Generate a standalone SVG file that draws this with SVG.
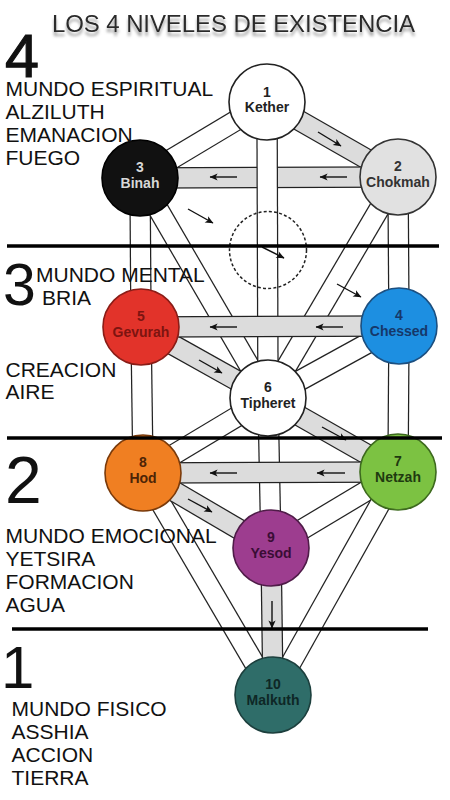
<svg xmlns="http://www.w3.org/2000/svg" width="450" height="800" viewBox="0 0 450 800">
<defs>
<filter id="sh" x="-5%" y="-60%" width="110%" height="240%">
<feGaussianBlur in="SourceAlpha" stdDeviation="1.7" result="b"/>
<feOffset in="b" dx="0" dy="4" result="o"/>
<feColorMatrix in="o" type="matrix" values="0 0 0 0 0.3  0 0 0 0 0.3  0 0 0 0 0.3  0 0 0 0.9 0" result="c"/>
<feMerge><feMergeNode in="c"/><feMergeNode in="SourceGraphic"/></feMerge>
</filter>
<marker id="ah" viewBox="0 0 10 10" refX="9.5" refY="5" markerWidth="9" markerHeight="8" markerUnits="userSpaceOnUse" orient="auto"><path d="M0,0.5 L10,5 L0,9.5 L2.5,5 z" fill="#111"/></marker>
</defs>
<style>
.lbl{font-family:"Liberation Sans",Arial,sans-serif;font-size:21px;fill:#111}
.big{font-family:"Liberation Sans",Arial,sans-serif;fill:#111}
.bo{stroke:#222;stroke-width:21.5}
.bw{stroke:#fff;stroke-width:19}
.bg{stroke:#dcdcdc;stroke-width:19}
.nt{font-family:"Liberation Sans",Arial,sans-serif;font-weight:bold;font-size:14px;text-anchor:middle}
.arr{stroke:#111;stroke-width:1.4;fill:none;marker-end:url(#ah)}
.lvl{stroke:#000;stroke-width:3.5}
</style>
<rect width="450" height="800" fill="#fff"/>

<g id="title">
<text x="52" y="32" font-family="Liberation Sans, Arial, sans-serif" font-size="24" textLength="363" fill="#2a2a2a" filter="url(#sh)">LOS 4 NIVELES DE EXISTENCIA</text>
</g>

<g id="connectors">
<line class="bo" x1="267" y1="102" x2="140" y2="178"/><line class="bw" x1="267" y1="102" x2="140" y2="178"/>
<line class="bo" x1="267" y1="102" x2="398" y2="177"/><line class="bg" x1="267" y1="102" x2="398" y2="177"/>
<line class="bo" x1="398" y1="177" x2="399" y2="326"/><line class="bw" x1="398" y1="177" x2="399" y2="326"/>
<line class="bo" x1="140" y1="178" x2="141" y2="327"/><line class="bw" x1="140" y1="178" x2="141" y2="327"/>
<line class="bo" x1="140" y1="178" x2="268" y2="398"/><line class="bw" x1="140" y1="178" x2="268" y2="398"/>
<line class="bo" x1="398" y1="177" x2="268" y2="398"/><line class="bw" x1="398" y1="177" x2="268" y2="398"/>
<line class="bo" x1="140" y1="178" x2="398" y2="177"/><line class="bg" x1="140" y1="178" x2="398" y2="177"/>
<line class="bo" x1="267" y1="102" x2="268" y2="398"/><line class="bw" x1="267" y1="102" x2="268" y2="398"/>
<line class="bo" x1="399" y1="326" x2="268" y2="398"/><line class="bw" x1="399" y1="326" x2="268" y2="398"/>
<line class="bo" x1="141" y1="327" x2="268" y2="398"/><line class="bg" x1="141" y1="327" x2="268" y2="398"/>
<line class="bo" x1="399" y1="326" x2="141" y2="327"/><line class="bg" x1="399" y1="326" x2="141" y2="327"/>
<line class="bo" x1="399" y1="326" x2="398" y2="472"/><line class="bw" x1="399" y1="326" x2="398" y2="472"/>
<line class="bo" x1="141" y1="327" x2="143" y2="473"/><line class="bw" x1="141" y1="327" x2="143" y2="473"/>
<line class="bo" x1="268" y1="398" x2="143" y2="473"/><line class="bw" x1="268" y1="398" x2="143" y2="473"/>
<line class="bo" x1="268" y1="398" x2="398" y2="472"/><line class="bg" x1="268" y1="398" x2="398" y2="472"/>
<line class="bo" x1="268" y1="398" x2="271" y2="548"/><line class="bw" x1="268" y1="398" x2="271" y2="548"/>
<line class="bo" x1="398" y1="472" x2="143" y2="473"/><line class="bg" x1="398" y1="472" x2="143" y2="473"/>
<line class="bo" x1="398" y1="472" x2="271" y2="548"/><line class="bw" x1="398" y1="472" x2="271" y2="548"/>
<line class="bo" x1="398" y1="472" x2="273" y2="695"/><line class="bw" x1="398" y1="472" x2="273" y2="695"/>
<line class="bo" x1="143" y1="473" x2="273" y2="695"/><line class="bw" x1="143" y1="473" x2="273" y2="695"/>
<line class="bo" x1="143" y1="473" x2="271" y2="548"/><line class="bg" x1="143" y1="473" x2="271" y2="548"/>
<line class="bo" x1="271" y1="548" x2="273" y2="695"/><line class="bg" x1="271" y1="548" x2="273" y2="695"/>

<line class="arr" x1="318" y1="132" x2="341" y2="146"/>
<line class="arr" x1="347" y1="177" x2="320" y2="177"/>
<line class="arr" x1="237" y1="177" x2="210" y2="177"/>
<line class="arr" x1="188" y1="209" x2="213" y2="223"/>
<line class="arr" x1="262" y1="247" x2="284" y2="258"/>
<line class="arr" x1="337" y1="284" x2="361" y2="297"/>
<line class="arr" x1="343" y1="327" x2="316" y2="327"/>
<line class="arr" x1="237" y1="327" x2="210" y2="327"/>
<line class="arr" x1="199" y1="360" x2="222" y2="373"/>
<line class="arr" x1="322" y1="427" x2="346" y2="440"/>
<line class="arr" x1="345" y1="473" x2="317" y2="473"/>
<line class="arr" x1="237" y1="473" x2="210" y2="473"/>
<line class="arr" x1="188" y1="499" x2="212" y2="512"/>
<line class="arr" x1="272" y1="601" x2="272" y2="628"/>
</g>

<g id="daath"><circle cx="268" cy="250" r="38.5" fill="none" stroke="#222" stroke-width="1.5" stroke-dasharray="3 2.2"/></g>

<g id="kether"><circle cx="267" cy="102" r="38" fill="#fff" stroke="#222" stroke-width="1.6"/><text class="nt" x="267" y="96.5" fill="#222">1</text><text class="nt" x="267" y="112" fill="#222">Kether</text></g>
<g id="chokmah"><circle cx="398" cy="177" r="38" fill="#e1e1e1" stroke="#333" stroke-width="1.6"/><text class="nt" x="398" y="171" fill="#333">2</text><text class="nt" x="398" y="186.5" fill="#333">Chokmah</text></g>
<g id="binah"><circle cx="140" cy="178" r="38" fill="#111" stroke="#000" stroke-width="1.6"/><text class="nt" x="140" y="172" fill="#d8d8d8">3</text><text class="nt" x="140" y="187.5" fill="#d8d8d8">Binah</text></g>
<g id="chessed"><circle cx="399" cy="326" r="38" fill="#1d8fe1" stroke="#1b4f80" stroke-width="1.6"/><text class="nt" x="399" y="320" fill="#16386a">4</text><text class="nt" x="399" y="335.5" fill="#16386a">Chessed</text></g>
<g id="gevurah"><circle cx="141" cy="327" r="38" fill="#e2332a" stroke="#8a1c16" stroke-width="1.6"/><text class="nt" x="141" y="321" fill="#7d1410">5</text><text class="nt" x="141" y="336.5" fill="#7d1410">Gevurah</text></g>
<g id="tipheret"><circle cx="268" cy="398" r="38" fill="#fff" stroke="#222" stroke-width="1.6"/><text class="nt" x="268" y="392" fill="#222">6</text><text class="nt" x="268" y="407.5" fill="#222">Tipheret</text></g>
<g id="netzah"><circle cx="398" cy="472" r="38" fill="#7cc242" stroke="#3d6a1e" stroke-width="1.6"/><text class="nt" x="398" y="466" fill="#1f3a10">7</text><text class="nt" x="398" y="481.5" fill="#1f3a10">Netzah</text></g>
<g id="hod"><circle cx="143" cy="473" r="38" fill="#f07f22" stroke="#7a3a0a" stroke-width="1.6"/><text class="nt" x="143" y="467" fill="#4d2406">8</text><text class="nt" x="143" y="482.5" fill="#4d2406">Hod</text></g>
<g id="yesod"><circle cx="271" cy="548" r="38" fill="#9d3d8f" stroke="#4f1b48" stroke-width="1.6"/><text class="nt" x="271" y="542" fill="#3a0d35">9</text><text class="nt" x="271" y="557.5" fill="#3a0d35">Yesod</text></g>
<g id="malkuth"><circle cx="273" cy="695" r="38" fill="#2f6d69" stroke="#1c3f3d" stroke-width="1.6"/><text class="nt" x="273" y="689" fill="#0e2726">10</text><text class="nt" x="273" y="704.5" fill="#0e2726">Malkuth</text></g>

<g id="levels">
<line class="lvl" x1="7" y1="246" x2="439" y2="246"/>
<line class="lvl" x1="7" y1="438" x2="442" y2="438"/>
<line class="lvl" x1="12" y1="629" x2="428" y2="629"/>
</g>

<g id="labels">
<text class="big" x="5" y="77" font-size="61" stroke="#111" stroke-width="1.2">4</text>
<text class="lbl" x="5.5" y="96">MUNDO ESPIRITUAL</text>
<text class="lbl" x="5.5" y="119">ALZILUTH</text>
<text class="lbl" x="5.5" y="142">EMANACION</text>
<text class="lbl" x="5.5" y="165">FUEGO</text>
<text class="big" x="3" y="305" font-size="59">3</text>
<text class="lbl" x="36" y="282">MUNDO MENTAL</text>
<text class="lbl" x="42" y="305">BRIA</text>
<text class="lbl" x="5.5" y="377">CREACION</text>
<text class="lbl" x="5.5" y="399">AIRE</text>
<text class="big" x="5" y="503" font-size="66">2</text>
<text class="lbl" x="5.5" y="543">MUNDO EMOCIONAL</text>
<text class="lbl" x="5.5" y="566">YETSIRA</text>
<text class="lbl" x="5.5" y="589">FORMACION</text>
<text class="lbl" x="5.5" y="612">AGUA</text>
<text class="big" x="1" y="688" font-size="60">1</text>
<text class="lbl" x="11.5" y="716">MUNDO FISICO</text>
<text class="lbl" x="11.5" y="739">ASSHIA</text>
<text class="lbl" x="11.5" y="762">ACCION</text>
<text class="lbl" x="11.5" y="785">TIERRA</text>
</g>
</svg>
